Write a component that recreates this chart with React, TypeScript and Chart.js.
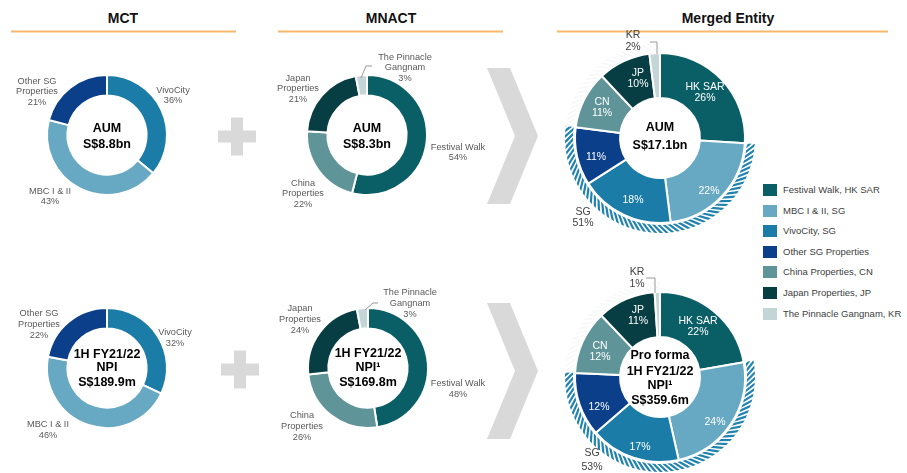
import React, { useEffect, useRef } from 'react';
import { Chart, registerables } from 'chart.js';

Chart.register(...registerables);

const FONT = '"Liberation Sans", Arial, Helvetica, sans-serif';

// ---------------- DATA ----------------
const mctCategories = ['VivoCity', 'MBC I & II', 'Other SG Properties'];
const mctLabelLines = [['VivoCity'], ['MBC I & II'], ['Other SG', 'Properties']];
const mctAum = [36, 43, 21];
const mctNpi = [32, 46, 22];

const mnactCategories = ['Festival Walk', 'China Properties', 'Japan Properties', 'The Pinnacle Gangnam'];
const mnactLabelLines = [['Festival Walk'], ['China', 'Properties'], ['Japan', 'Properties'], ['The Pinnacle', 'Gangnam']];
const mnactAum = [54, 22, 21, 3];
const mnactNpi = [48, 26, 24, 3];

const mergedCategories = [
  'Festival Walk, HK SAR',
  'MBC I & II, SG',
  'VivoCity, SG',
  'Other SG Properties',
  'China Properties, CN',
  'Japan Properties, JP',
  'The Pinnacle Gangnam, KR',
];
const mergedShort = ['HK SAR', '', '', '', 'CN', 'JP', 'KR'];
const mergedAum = [26, 22, 18, 11, 11, 10, 2];
const mergedNpi = [22, 24, 17, 12, 12, 11, 1];
const sgGroupLabel = 'SG';
const sgShareAum = 51;
const sgShareNpi = 53;

const centerMctAum = ['AUM', 'S$8.8bn'];
const centerMnactAum = ['AUM', 'S$8.3bn'];
const centerMergedAum = ['AUM', 'S$17.1bn'];
const centerMctNpi = ['1H FY21/22', 'NPI', 'S$189.9m'];
const centerMnactNpi = ['1H FY21/22', 'NPI\u00B9', 'S$169.8m'];
const centerMergedNpi = ['Pro forma', '1H FY21/22', 'NPI\u00B9', 'S$359.6m'];

const columnTitles = ['MCT', 'MNACT', 'Merged Entity'];

// ---------------- STYLE ----------------
const C = {
  fw: '#0A5F67',
  mbc: '#67A8C2',
  vivo: '#1B7DA7',
  other: '#0C3F8A',
  china: '#5F9599',
  japan: '#073E43',
  pinnacle: '#C4D5D8',
};
const mctColors = [C.vivo, C.mbc, C.other];
const mnactColors = [C.fw, C.china, C.japan, C.pinnacle];
const mergedColors = [C.fw, C.mbc, C.vivo, C.other, C.china, C.japan, C.pinnacle];

type Label = { lines: string[]; dx: number; dy: number; lh: number; color: string; size: number };

function drawHatch(ctx: CanvasRenderingContext2D, cx: number, cy: number, r1: number, r2: number, a0: number, a1: number, color: string, step: number, width: number) {
  ctx.save();
  ctx.beginPath();
  ctx.arc(cx, cy, r2, a0, a1);
  ctx.arc(cx, cy, r1, a1, a0, true);
  ctx.closePath();
  ctx.clip();
  ctx.strokeStyle = color;
  ctx.lineWidth = width;
  const rm = (r1 + r2) / 2;
  const dA = step / rm;
  const skew = (r2 - r1 + 3) / rm;
  for (let a = a0 - skew; a <= a1 + skew; a += dA) {
    ctx.beginPath();
    ctx.moveTo(cx + (r1 - 1.5) * Math.cos(a), cy + (r1 - 1.5) * Math.sin(a));
    ctx.lineTo(cx + (r2 + 1.5) * Math.cos(a - skew), cy + (r2 + 1.5) * Math.sin(a - skew));
    ctx.stroke();
  }
  ctx.restore();
}

const decorPlugin = {
  id: 'donutDecor',
  afterDatasetsDraw(chart: any, _args: any, opts: any) {
    const ctx: CanvasRenderingContext2D = chart.ctx;
    const meta = chart.getDatasetMeta(0);
    const a0: any = meta.data[0];
    const cx = a0.x;
    const cy = a0.y;
    const outer = a0.outerRadius;

    if (opts.hatch) {
      const h = opts.hatch;
      const s = meta.data[h.from].startAngle;
      const e = meta.data[h.to].endAngle;
      drawHatch(ctx, cx, cy, outer + 2, outer + 10, s, e, '#2082AF', 5.4, 2.2);
      drawHatch(ctx, cx, cy, outer + 2, outer + 10, e, meta.data[0].startAngle + Math.PI * 2, 'rgba(200,208,212,0.14)', 5.4, 1.6);
    }

    if (opts.leader) {
      ctx.save();
      ctx.strokeStyle = '#8C8C8C';
      ctx.lineWidth = 0.9;
      ctx.beginPath();
      opts.leader.forEach((p: number[], i: number) => {
        if (i === 0) ctx.moveTo(cx + p[0], cy + p[1]);
        else ctx.lineTo(cx + p[0], cy + p[1]);
      });
      ctx.stroke();
      ctx.restore();
    }

    ctx.save();
    ctx.textAlign = 'center';
    ctx.textBaseline = 'middle';
    (opts.labels as Label[]).forEach((l) => {
      ctx.font = `${l.size}px ${FONT}`;
      ctx.fillStyle = l.color;
      l.lines.forEach((t, i) => ctx.fillText(t, cx + l.dx, cy + l.dy + i * l.lh));
    });
    ctx.font = `bold 12.5px ${FONT}`;
    ctx.fillStyle = '#000';
    (opts.center as string[]).forEach((t, i) => ctx.fillText(t, cx, cy + opts.centerY[i]));
    ctx.restore();
  },
};

const GRAY = '#595959';
const DGRAY = '#404040';

function outerLabels(lines: string[][], values: number[], pos: number[][], lh: number): Label[] {
  return lines.map((ls, i) => ({ lines: [...ls, `${values[i]}%`], dx: pos[i][0], dy: pos[i][1], lh, color: GRAY, size: 9.2 }));
}

function mergedLabels(values: number[], pos: number[][], sgPos: number[], sgLh: number, sgShare: number): Label[] {
  const out: Label[] = values.map((v, i) => {
    const isOut = i === values.length - 1;
    const lines = mergedShort[i] ? [mergedShort[i], `${v}%`] : [`${v}%`];
    return { lines, dx: pos[i][0], dy: pos[i][1], lh: isOut ? 12 : 11.5, color: isOut ? DGRAY : '#FFFFFF', size: 10.5 };
  });
  out.push({ lines: [sgGroupLabel, `${sgShare}%`], dx: sgPos[0], dy: sgPos[1], lh: sgLh, color: DGRAY, size: 10.5 });
  return out;
}

type Spec = {
  left: number; top: number; w: number; h: number;
  labels: string[]; values: number[]; colors: string[];
  radius: number; cutout: string;
  decor: any;
};

const specs: Spec[] = [
  {
    left: 0, top: 40, w: 214, h: 190,
    labels: mctCategories, values: mctAum, colors: mctColors, radius: 60, cutout: '66%',
    decor: {
      labels: outerLabels(mctLabelLines, mctAum, [[66, -45], [-57, 56], [-70, -54]], 10.5),
      center: centerMctAum, centerY: [-6, 10],
    },
  },
  {
    left: 242, top: 40, w: 250, h: 190,
    labels: mnactCategories, values: mnactAum, colors: mnactColors, radius: 60, cutout: '66%',
    decor: {
      labels: outerLabels(mnactLabelLines, mnactAum, [[91, 12], [-64, 48], [-69, -57], [38, -78]], 10.5),
      leader: [[5, -69], [-1, -69], [-6, -57]],
      center: centerMnactAum, centerY: [-6, 10],
    },
  },
  {
    left: 560, top: 28, w: 200, h: 220,
    labels: mergedCategories, values: mergedAum, colors: mergedColors, radius: 85, cutout: '47%',
    decor: {
      labels: mergedLabels(mergedAum, [[45, -51], [49, 53], [-27, 62], [-64, 19], [-58, -36], [-22, -65], [-27, -103]], [-77, 74], 11.5, sgShareAum),
      leader: [[-10, -96], [-3, -96], [-3, -84]],
      hatch: { from: 1, to: 3 },
      center: centerMergedAum, centerY: [-10, 8],
    },
  },
  {
    left: 0, top: 273, w: 214, h: 190,
    labels: mctCategories, values: mctNpi, colors: mctColors, radius: 60, cutout: '66%',
    decor: {
      labels: outerLabels(mctLabelLines, mctNpi, [[68, -36], [-59, 56], [-68, -55]], 11),
      center: centerMctNpi, centerY: [-13, 0, 15],
    },
  },
  {
    left: 243, top: 273, w: 250, h: 190,
    labels: mnactCategories, values: mnactNpi, colors: mnactColors, radius: 60, cutout: '66%',
    decor: {
      labels: outerLabels(mnactLabelLines, mnactNpi, [[90, 15], [-66, 47], [-68, -60], [42, -76]], 11),
      leader: [[10, -65], [5, -65], [-3, -58]],
      center: centerMnactNpi, centerY: [-14, 0, 15],
    },
  },
  {
    left: 560, top: 265, w: 200, h: 224,
    labels: mergedCategories, values: mergedNpi, colors: mergedColors, radius: 85, cutout: '47%',
    decor: {
      labels: mergedLabels(mergedNpi, [[38, -56], [55, 45], [-20, 70], [-61, 30], [-60, -31], [-22, -67], [-23, -105]], [-68, 76], 14, sgShareNpi),
      leader: [[-14, -99], [-5, -99], [-5, -84]],
      hatch: { from: 1, to: 3 },
      center: centerMergedNpi, centerY: [-21, -5, 9, 24],
    },
  },
];

function buildConfig(s: Spec): any {
  return {
    type: 'doughnut',
    data: {
      labels: s.labels,
      datasets: [{
        data: s.values,
        backgroundColor: s.colors,
        borderColor: '#FFFFFF',
        borderWidth: 2,
        hoverOffset: 0,
      }],
    },
    options: {
      responsive: false,
      animation: false,
      radius: s.radius,
      cutout: s.cutout,
      layout: { padding: 0 },
      events: [],
      plugins: {
        legend: { display: false },
        tooltip: { enabled: false },
        donutDecor: s.decor,
      },
    },
    plugins: [decorPlugin],
  };
}

const titleCenters = [123, 391, 728];
const titleLines = [[11, 236], [278, 503], [557, 888]];

export default function App() {
  const refs = useRef<(HTMLCanvasElement | null)[]>([]);

  useEffect(() => {
    const charts = specs.map((s, i) => new Chart(refs.current[i] as HTMLCanvasElement, buildConfig(s)));
    return () => charts.forEach((c) => c.destroy());
  }, []);

  const plus = (cx: number, cy: number) => (
    <g fill="#D9D9D9">
      <rect x={cx - 6} y={cy - 19} width={12} height={38} />
      <rect x={cx - 19} y={cy - 6} width={38} height={12} />
    </g>
  );
  const chevron = (top: number, bottom: number) => {
    const mid = (top + bottom) / 2;
    return <polygon fill="#D9D9D9" points={`487,${top} 510,${top} 538,${mid} 510,${bottom} 487,${bottom} 515,${mid}`} />;
  };

  return (
    <div style={{ position: 'absolute', left: 0, top: 0, width: 907, height: 473, overflow: 'hidden', background: '#fff', fontFamily: FONT }}>
      <svg width={907} height={473} style={{ position: 'absolute', left: 0, top: 0 }}>
        {plus(237, 136.5)}
        {plus(240, 369.5)}
        {chevron(68, 204)}
        {chevron(303, 439)}
        {titleLines.map((l, i) => (
          <rect key={i} x={l[0]} y={30.5} width={l[1] - l[0]} height={2} fill="#F6B86C" />
        ))}
      </svg>
      {columnTitles.map((t, i) => (
        <div key={t} style={{ position: 'absolute', left: titleCenters[i] - 100, width: 200, top: 9, lineHeight: '18px', textAlign: 'center', fontWeight: 'bold', fontSize: 14, color: '#111' }}>{t}</div>
      ))}
      {specs.map((s, i) => (
        <canvas
          key={i}
          ref={(el) => { refs.current[i] = el; }}
          width={s.w}
          height={s.h}
          style={{ position: 'absolute', left: s.left, top: s.top, width: s.w, height: s.h }}
        />
      ))}
      {mergedCategories.map((c, i) => (
        <div key={c} style={{ position: 'absolute', left: 763, top: 184 + i * 20.6, height: 12, display: 'flex', alignItems: 'center' }}>
          <div style={{ width: 14, height: 12, background: mergedColors[i] }} />
          <div style={{ marginLeft: 6, fontSize: 9.5, color: DGRAY, whiteSpace: 'nowrap', lineHeight: '12px' }}>{c}</div>
        </div>
      ))}
    </div>
  );
}
